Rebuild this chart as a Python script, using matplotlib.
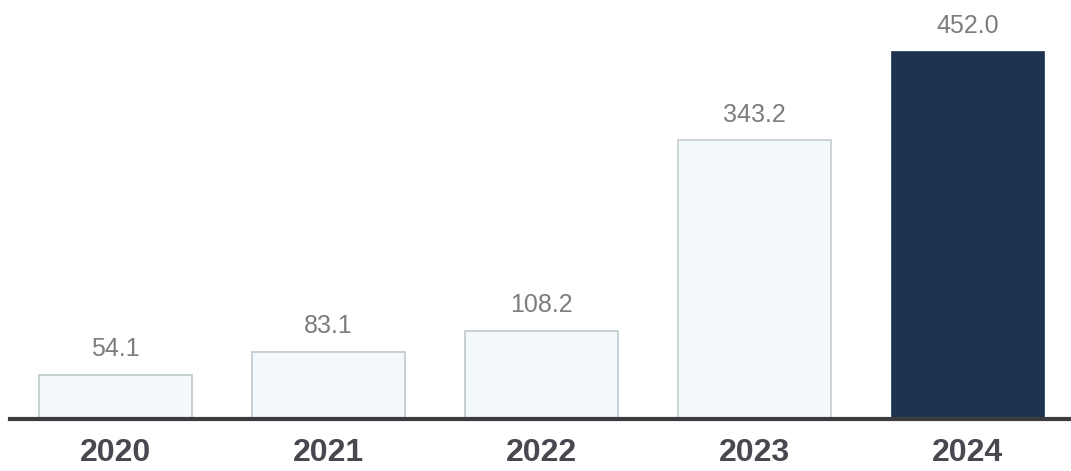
import numpy as np
import matplotlib.pyplot as plt

years = ['2020', '2021', '2022', '2023', '2024']
values = [54.1, 83.1, 108.2, 343.2, 452.0]
fills = ['#f2f8fb', '#f2f8fb', '#f2f8fb', '#f4f9fc', '#1e3350']
edges = ['#bfc8cc', '#bfc8cc', '#bfc8cc', '#c4cbcf', '#1e3350']

plt.rcParams['font.family'] = ['Liberation Sans', 'DejaVu Sans']

fig = plt.figure(figsize=(10.71, 4.71), dpi=100)
ax = fig.add_axes([10 / 1071, 52 / 471, 1061 / 1071, 419 / 471])

x = np.arange(len(years))
ax.bar(x, values, width=0.715, color=fills, edgecolor=edges, linewidth=1.2, zorder=2)

for xi, v in zip(x, values):
    ax.text(xi, v + 17, f'{v:.1f}', ha='center', va='bottom',
            fontsize=18, color='#7d7d80')

ax.set_xlim(-0.495, 4.485)
ax.set_ylim(0, 516)

for s in ['top', 'right', 'left']:
    ax.spines[s].set_visible(False)
ax.spines['bottom'].set_color('#3c3c40')
ax.spines['bottom'].set_linewidth(3)
ax.spines['bottom'].set_zorder(3)

ax.set_yticks([])
ax.set_xticks(x)
ax.set_xticklabels(years, fontsize=23, fontweight='bold', color='#484850')
ax.tick_params(axis='x', length=0, pad=14)

fig.savefig('out.png', dpi=100, facecolor='white')
